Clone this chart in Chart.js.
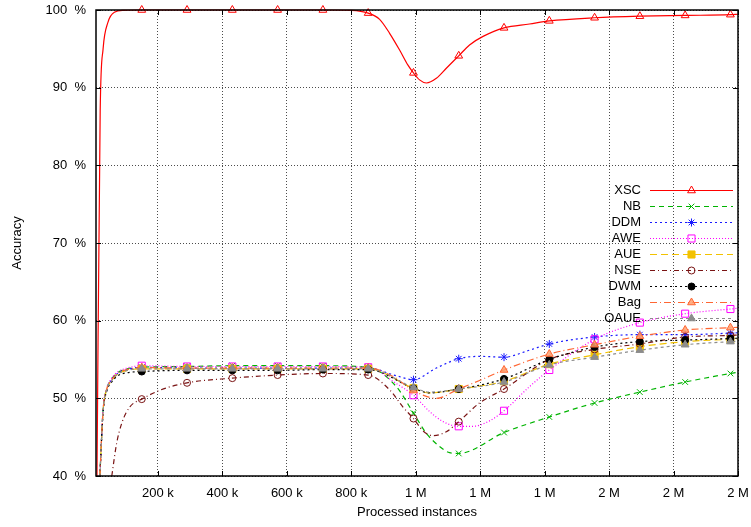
<!DOCTYPE html>
<html><head><meta charset="utf-8">
<script src="https://cdn.jsdelivr.net/npm/chart.js@4.4.1/dist/chart.umd.min.js"></script>
<style>html,body{margin:0;padding:0;background:#fff;}canvas{display:block;}</style>
</head><body>
<canvas id="c" width="751" height="527"></canvas>
<script>
// ---------- data ----------
const xTickValues = [200000, 400000, 600000, 800000, 1000000, 1200000, 1400000, 1600000, 1800000, 2000000];
const xTickLabels = ['200 k', '400 k', '600 k', '800 k', '1 M', '1 M', '1 M', '2 M', '2 M', '2 M'];
const yTickValues = [40, 50, 60, 70, 80, 90, 100];

// x positions (processed instances) of the plotted markers
const markerX = [150000, 290500, 431000, 571500, 712000, 852500, 993000, 1133500, 1274000, 1414500, 1555000, 1695500, 1836000, 1976500];

// accuracy (%) at the markers
const xscMarks  = [100, 100, 100, 100, 100, 99.6, 91.9, 94.1, 97.7, 98.6, 99.0, 99.2, 99.3, 99.4];
const nbMarks   = [54.0, 54.1, 54.2, 54.2, 54.2, 54.0, 48.1, 42.9, 45.6, 47.6, 49.4, 50.8, 52.1, 53.2];
const ddmMarks  = [54.0, 53.9, 53.9, 53.9, 53.9, 53.9, 52.4, 55.1, 55.3, 57.0, 57.9, 58.2, 58.2, 58.4];
const aweMarks  = [54.2, 54.1, 54.1, 54.1, 54.1, 54.0, 50.4, 46.4, 48.4, 53.65, 57.6, 59.75, 60.9, 61.5];
const aueMarks  = [53.8, 53.8, 53.8, 53.8, 53.8, 53.8, 51.3, 51.2, 52.2, 54.4, 55.6, 56.65, 57.3, 57.6];
const nseMarks  = [49.9, 52.0, 52.6, 53.0, 53.2, 53.0, 47.4, 47.0, 51.2, 55.0, 56.3, 57.0, 57.9, 58.1];
const dwmMarks  = [53.45, 53.6, 53.6, 53.6, 53.7, 53.7, 51.3, 51.2, 52.5, 55.0, 56.6, 57.3, 57.5, 57.7];
const bagMarks  = [53.95, 53.9, 53.9, 53.9, 53.9, 53.9, 51.0, 51.2, 53.65, 55.7, 56.9, 58.0, 58.8, 59.1];
const oaueMarks = [53.8, 53.8, 53.8, 53.8, 53.8, 53.8, 51.4, 51.2, 52.1, 54.3, 55.3, 56.2, 56.9, 57.3];

// further points of each curve, read between the markers
const xscCurve  = [[11000,40],[21000,87],[30000,95],[45000,98.4],[65000,99.7],[95000,99.95],[800000,99.95],[888000,98.8],[919000,97.0],[950000,94.85],[976000,92.9],[1012000,91.0],[1033000,90.6],[1064000,91.2],[1095000,92.5],[1167000,95.5],[1209000,96.6],[1353000,98.2],[2000000,99.45]];
const nbCurve   = [[20000,40],[30000,48.5],[42000,51.3],[55000,52.4],[75000,53.3],[105000,53.8],[940000,51.5],[1033000,45.5],[1074000,43.8],[1105000,43.0],[2000000,53.35]];
const ddmCurve  = [[20000,40],[30000,48.3],[42000,51.2],[55000,52.3],[75000,53.2],[105000,53.7],[940000,52.9],[1064000,53.9],[1198000,55.4],[1353000,56.2],[2000000,58.45]];
const aweCurve  = [[20000,40],[30000,48.6],[42000,51.4],[55000,52.5],[75000,53.4],[105000,53.9],[940000,51.9],[1043000,48.3],[1085000,47.0],[1178000,46.4],[1229000,47.1],[1353000,51.5],[2000000,61.6]];
const aueCurve  = [[20000,40],[30000,48.4],[42000,51.2],[55000,52.2],[75000,53.1],[105000,53.6],[1043000,50.7],[2000000,57.65]];
const nseCurve  = [[57000,40],[72000,44.2],[88000,46.8],[113000,48.9],[210000,51.1],[919000,51.1],[960000,48.9],[1023000,45.8],[1054000,45.2],[1095000,45.7],[1198000,49.4],[2000000,58.15]];
const dwmCurve  = [[20000,40],[30000,48.2],[42000,51.0],[55000,52.0],[75000,52.9],[105000,53.3],[1043000,50.7],[2000000,57.75]];
const bagCurve  = [[20000,40],[30000,48.5],[42000,51.3],[55000,52.3],[75000,53.2],[105000,53.7],[930000,52.8],[1064000,50.0],[1198000,52.3],[2000000,59.15]];
const oaueCurve = [[20000,40],[30000,48.4],[42000,51.2],[55000,52.2],[75000,53.1],[105000,53.6],[1043000,50.8],[2000000,57.35]];

const seriesNames = ['XSC', 'NB', 'DDM', 'AWE', 'AUE', 'NSE', 'DWM', 'Bag', 'OAUE'];
const seriesMarks = [xscMarks, nbMarks, ddmMarks, aweMarks, aueMarks, nseMarks, dwmMarks, bagMarks, oaueMarks];
const seriesCurves = [xscCurve, nbCurve, ddmCurve, aweCurve, aueCurve, nseCurve, dwmCurve, bagCurve, oaueCurve];

// ---------- styles ----------
const seriesColors = ['#ff0000', '#00b400', '#1a1aff', '#ff00ff', '#f2c200', '#7a1414', '#000000', '#ff6633', '#8c8c8c'];
const seriesDash   = [[], [5,4], [2,3], [1,2], [7,4], [5,3,1,3], [2,3], [7,3,1,3], [3,3]];
const seriesPoint  = ['triangle', 'crossRot', 'star', 'rect', 'rect', 'circle', 'circle', 'triangle', 'triangle'];
const seriesFill   = ['rgba(0,0,0,0)', 'rgba(0,0,0,0)', 'rgba(0,0,0,0)', 'rgba(0,0,0,0)', '#f2c200', 'rgba(0,0,0,0)', '#000000', 'rgba(255,160,110,0.85)', '#8c8c8c'];
const seriesRadius = [4.5, 4, 4, 5, 5, 3.5, 3.5, 4.5, 4.5];

const FONT = '"Liberation Sans", Arial, Helvetica, sans-serif';
Chart.defaults.font.family = FONT;
Chart.defaults.font.size = 13;
Chart.defaults.color = '#000';

function buildPoints(marks, curve) {
  const pts = markerX.map((x, i) => ({x: x, y: marks[i], m: true}));
  curve.forEach(p => pts.push({x: p[0], y: p[1], m: false}));
  pts.sort((a, b) => a.x - b.x);
  return pts;
}

const datasets = seriesNames.map((name, i) => ({
  label: name,
  data: buildPoints(seriesMarks[i], seriesCurves[i]),
  borderColor: seriesColors[i],
  borderWidth: 1.2,
  borderDash: seriesDash[i],
  cubicInterpolationMode: 'monotone',
  fill: false,
  clip: false,
  order: 9 - i,
  pointStyle: seriesPoint[i],
  pointRadius: ctx => (ctx.raw && ctx.raw.m) ? seriesRadius[i] : 0,
  pointHoverRadius: 0,
  pointBorderWidth: 1,
  pointBorderColor: seriesColors[i],
  pointBackgroundColor: seriesFill[i]
}));

function drawMarker(ctx, i, x, y) {
  ctx.save();
  ctx.setLineDash([]);
  ctx.strokeStyle = seriesColors[i];
  ctx.fillStyle = seriesFill[i];
  ctx.lineWidth = 1;
  if (Chart.helpers && Chart.helpers.drawPoint) {
    Chart.helpers.drawPoint(ctx, {pointStyle: seriesPoint[i], radius: seriesRadius[i], rotation: 0, borderWidth: 1}, x, y);
  }
  ctx.restore();
}

const framePlugin = {
  id: 'frame',
  beforeDraw(chart) {
    const ctx = chart.ctx;
    ctx.save();
    ctx.fillStyle = '#fff';
    ctx.fillRect(0, 0, chart.width, chart.height);
    ctx.restore();
  },
  afterDatasetsDraw(chart) {
    const ctx = chart.ctx;
    const a = chart.chartArea;
    const xs = chart.scales.x, ys = chart.scales.y;
    ctx.save();
    ctx.strokeStyle = '#000';
    ctx.lineWidth = 1;
    ctx.setLineDash([]);
    ctx.beginPath();
    xTickValues.forEach(v => {
      const px = Math.round(xs.getPixelForValue(v)) + 0.5;
      ctx.moveTo(px, a.bottom); ctx.lineTo(px, a.bottom - 5);
      ctx.moveTo(px, a.top); ctx.lineTo(px, a.top + 5);
    });
    yTickValues.forEach(v => {
      const py = Math.round(ys.getPixelForValue(v)) + 0.5;
      ctx.moveTo(a.left, py); ctx.lineTo(a.left + 5, py);
      ctx.moveTo(a.right, py); ctx.lineTo(a.right - 5, py);
    });
    ctx.stroke();
    ctx.lineWidth = 1.5;
    ctx.strokeRect(a.left, a.top, a.right - a.left, a.bottom - a.top);

    // key
    ctx.font = '13px ' + FONT;
    ctx.textAlign = 'right';
    ctx.textBaseline = 'middle';
    seriesNames.forEach((name, i) => {
      const y = 190 + i * 16;
      ctx.fillStyle = '#000';
      ctx.fillText(name, 641, y);
      ctx.save();
      ctx.strokeStyle = seriesColors[i];
      ctx.lineWidth = 1.2;
      ctx.setLineDash(seriesDash[i]);
      ctx.beginPath();
      ctx.moveTo(650, y + 0.5); ctx.lineTo(733, y + 0.5);
      ctx.stroke();
      ctx.restore();
      drawMarker(ctx, i, 691.5, y + 0.5);
    });
    ctx.restore();
  }
};

new Chart(document.getElementById('c'), {
  type: 'line',
  data: {datasets: datasets},
  plugins: [framePlugin],
  options: {
    responsive: false,
    animation: false,
    devicePixelRatio: 1,
    events: [],
    layout: {padding: {left: 0, right: 13, top: 10, bottom: 0}},
    plugins: {legend: {display: false}, tooltip: {enabled: false}},
    scales: {
      x: {
        type: 'linear',
        min: 8000,
        max: 2000000,
        afterBuildTicks: s => { s.ticks = xTickValues.map(v => ({value: v})); },
        afterFit: s => { s.height = 51; },
        ticks: {autoSkip: false, maxRotation: 0, minRotation: 0, padding: 1,
                callback: (v, i) => xTickLabels[i]},
        grid: {color: 'rgba(0,0,0,0.7)', lineWidth: 1, drawTicks: true, tickLength: 9, tickColor: 'rgba(0,0,0,0)'},
        border: {display: false, dash: [1, 2]},
        title: {display: true, text: 'Processed instances', padding: {top: 0, bottom: 7}}
      },
      y: {
        min: 40,
        max: 100,
        afterBuildTicks: s => { s.ticks = yTickValues.map(v => ({value: v})); },
        afterFit: s => { s.width = 96; },
        ticks: {padding: 1, callback: v => v + '  %'},
        grid: {color: 'rgba(0,0,0,0.7)', lineWidth: 1, drawTicks: true, tickLength: 9, tickColor: 'rgba(0,0,0,0)'},
        border: {display: false, dash: [1, 2]},
        title: {display: true, text: 'Accuracy', padding: {top: 10, bottom: 0}}
      }
    }
  }
});
</script>
</body></html>
